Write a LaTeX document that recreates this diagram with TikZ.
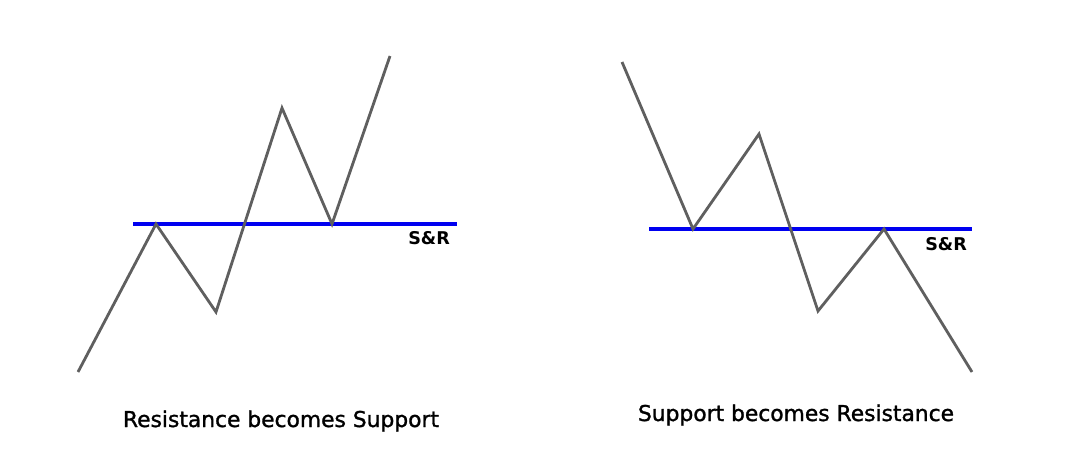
\documentclass[tikz,border=0pt]{standalone}
\usepackage{fontspec}
\setmainfont{DejaVu Sans}
\newfontfamily\capfont[FakeBold=1.3]{DejaVu Sans}
\definecolor{pricegray}{HTML}{5F5F5F}
\definecolor{levelblue}{HTML}{0000F0}
\tikzset{
  price/.style={line width=2pt, pricegray, line join=miter},
  level/.style={line width=2.3pt, levelblue},
  srlabel/.style={font=\fontsize{12.5}{14}\selectfont\bfseries, anchor=base west, inner sep=0pt},
  caption/.style={font=\fontsize{15.5}{18}\selectfont\capfont, anchor=base, inner sep=0pt}
}

\begin{document}
\begin{tikzpicture}[x=0.025cm, y=-0.025cm]
  % Page frame (pixel grid, y pointing down)
  \useasboundingbox (0,0) rectangle (1083,455);

  % Left chart: resistance becomes support
  \coordinate (L0) at (78,372);  % start
  \coordinate (L1) at (156,224); % first peak on the level
  \coordinate (L2) at (216,312); % pullback
  \coordinate (L3) at (282,108); % high
  \coordinate (L4) at (332,224); % retest from above
  \coordinate (L5) at (390,56);  % end
  \coordinate (LA) at (133,224); % level start
  \coordinate (LB) at (457,224); % level end

  \draw[level] (LA) -- (LB);
  \draw[price] (L0) -- (L1) -- (L2) -- (L3) -- (L4) -- (L5);

  % Right chart: support becomes resistance
  \coordinate (R0) at (622,62);  % start
  \coordinate (R1) at (693,229); % first low on the level
  \coordinate (R2) at (759,134); % bounce
  \coordinate (R3) at (818,311); % low
  \coordinate (R4) at (884,229); % retest from below
  \coordinate (R5) at (972,372); % end
  \coordinate (RA) at (649,229); % level start
  \coordinate (RB) at (972,229); % level end

  \draw[level] (RA) -- (RB);
  \draw[price] (R0) -- (R1) -- (R2) -- (R3) -- (R4) -- (R5);

  % Labels
  \node[srlabel] (srL) at (408,244) {S\&R};
  \node[srlabel] (srR) at (925,250) {S\&R};
  \node[caption] (capL) at (281,427) {Resistance becomes Support};
  \node[caption] (capR) at (796,421) {Support becomes Resistance};
\end{tikzpicture}
\end{document}
